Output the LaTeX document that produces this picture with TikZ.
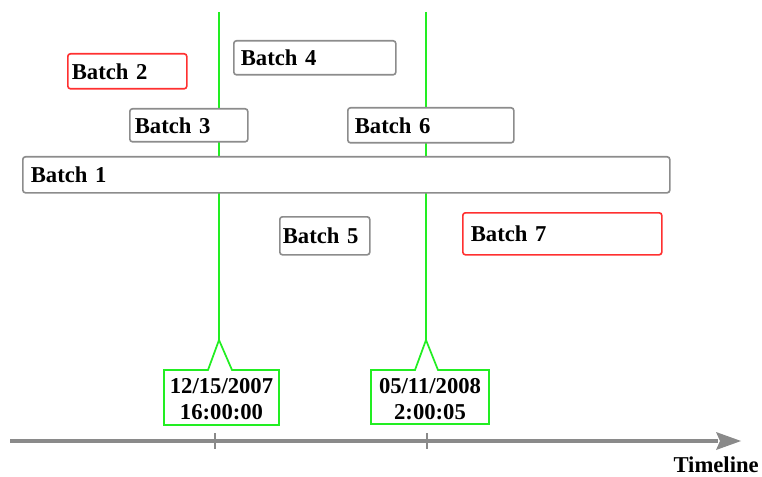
\documentclass[tikz,border=0pt]{standalone}
\usepackage{fontspec}
\setmainfont{Liberation Serif}
\definecolor{boxgray}{HTML}{8C8C8C}
\definecolor{boxred}{HTML}{FF3030}
\definecolor{lgreen}{HTML}{22EE22}
\definecolor{axisgray}{HTML}{8A8A8A}
\tikzset{
  lbl/.style={font=\bfseries\fontsize{17}{19}\selectfont},
  batch/.style={lbl, draw=boxgray, fill=white, rounded corners=2pt, line width=1.2pt,
    anchor=north west, align=left, inner ysep=0pt},
  redbatch/.style={batch, draw=boxred},
  guide/.style={draw=lgreen, line width=1.4pt},
  callout/.style={draw=lgreen, fill=white, line width=1.3pt},
  calltext/.style={lbl, align=center, font=\bfseries\fontsize{17}{19}\selectfont},
  axis/.style={draw=axisgray, line width=3pt},
  tick/.style={draw=axisgray, line width=1.2pt}
}
\begin{document}
\begin{tikzpicture}[x=0.75pt,y=-0.75pt]
\useasboundingbox (0,0) rectangle (762,477);
% guide lines
\coordinate (g1top) at (219,12);
\coordinate (g1tip) at (219,340);
\coordinate (g2top) at (426,12);
\coordinate (g2tip) at (426,340);
\draw[guide] (g1top) -- (g1tip);
\draw[guide] (g2top) -- (g2tip);
% batches
\node[redbatch, minimum width=119*0.75pt, minimum height=35*0.75pt, text width=111*0.75pt, inner xsep=3*0.75pt] (b2) at (67,53) {Batch 2};
\node[batch, minimum width=162*0.75pt, minimum height=34*0.75pt, text width=148*0.75pt, inner xsep=7*0.75pt] (b4) at (233,40) {Batch 4};
\node[batch, minimum width=118*0.75pt, minimum height=33*0.75pt, text width=108*0.75pt, inner xsep=5*0.75pt] (b3) at (129,108) {Batch 3};
\node[batch, minimum width=166*0.75pt, minimum height=35*0.75pt, text width=152*0.75pt, inner xsep=7*0.75pt] (b6) at (347,107) {Batch 6};
\node[batch, minimum width=647*0.75pt, minimum height=36*0.75pt, text width=631*0.75pt, inner xsep=8*0.75pt] (b1) at (22,156) {Batch 1};
\node[batch, minimum width=90*0.75pt, minimum height=38*0.75pt, text width=84*0.75pt, inner xsep=3*0.75pt] (b5) at (279,216) {Batch 5};
\node[redbatch, minimum width=199*0.75pt, minimum height=42*0.75pt, text width=183*0.75pt, inner xsep=8*0.75pt] (b7) at (462,212) {Batch 7};
% callouts
\draw[callout] (164,370) -- (208,370) -- (g1tip) -- (232,370) -- (279,370) -- (279,425) -- (164,425) -- cycle;
\node[calltext] (c1) at (221.5,399) {12/15/2007\\16:00:00};
\draw[callout] (371,370) -- (415,370) -- (g2tip) -- (438,370) -- (489,370) -- (489,424) -- (371,424) -- cycle;
\node[calltext] (c2) at (430,399) {05/11/2008\\2:00:05};
% axis
\coordinate (a0) at (10,441);
\coordinate (a1) at (718,441);
\draw[axis] (a0) -- (a1);
\fill[axisgray] (716,432) -- (741,441) -- (716,450) -- (720,441) -- cycle;
\coordinate (t1a) at (215,433);
\coordinate (t1b) at (215,449);
\coordinate (t2a) at (427,433);
\coordinate (t2b) at (427,449);
\draw[tick] (t1a) -- (t1b);
\draw[tick] (t2a) -- (t2b);
\node[lbl, anchor=east, inner sep=0pt] (tl) at (759,465) {Timeline};
\end{tikzpicture}
\end{document}
